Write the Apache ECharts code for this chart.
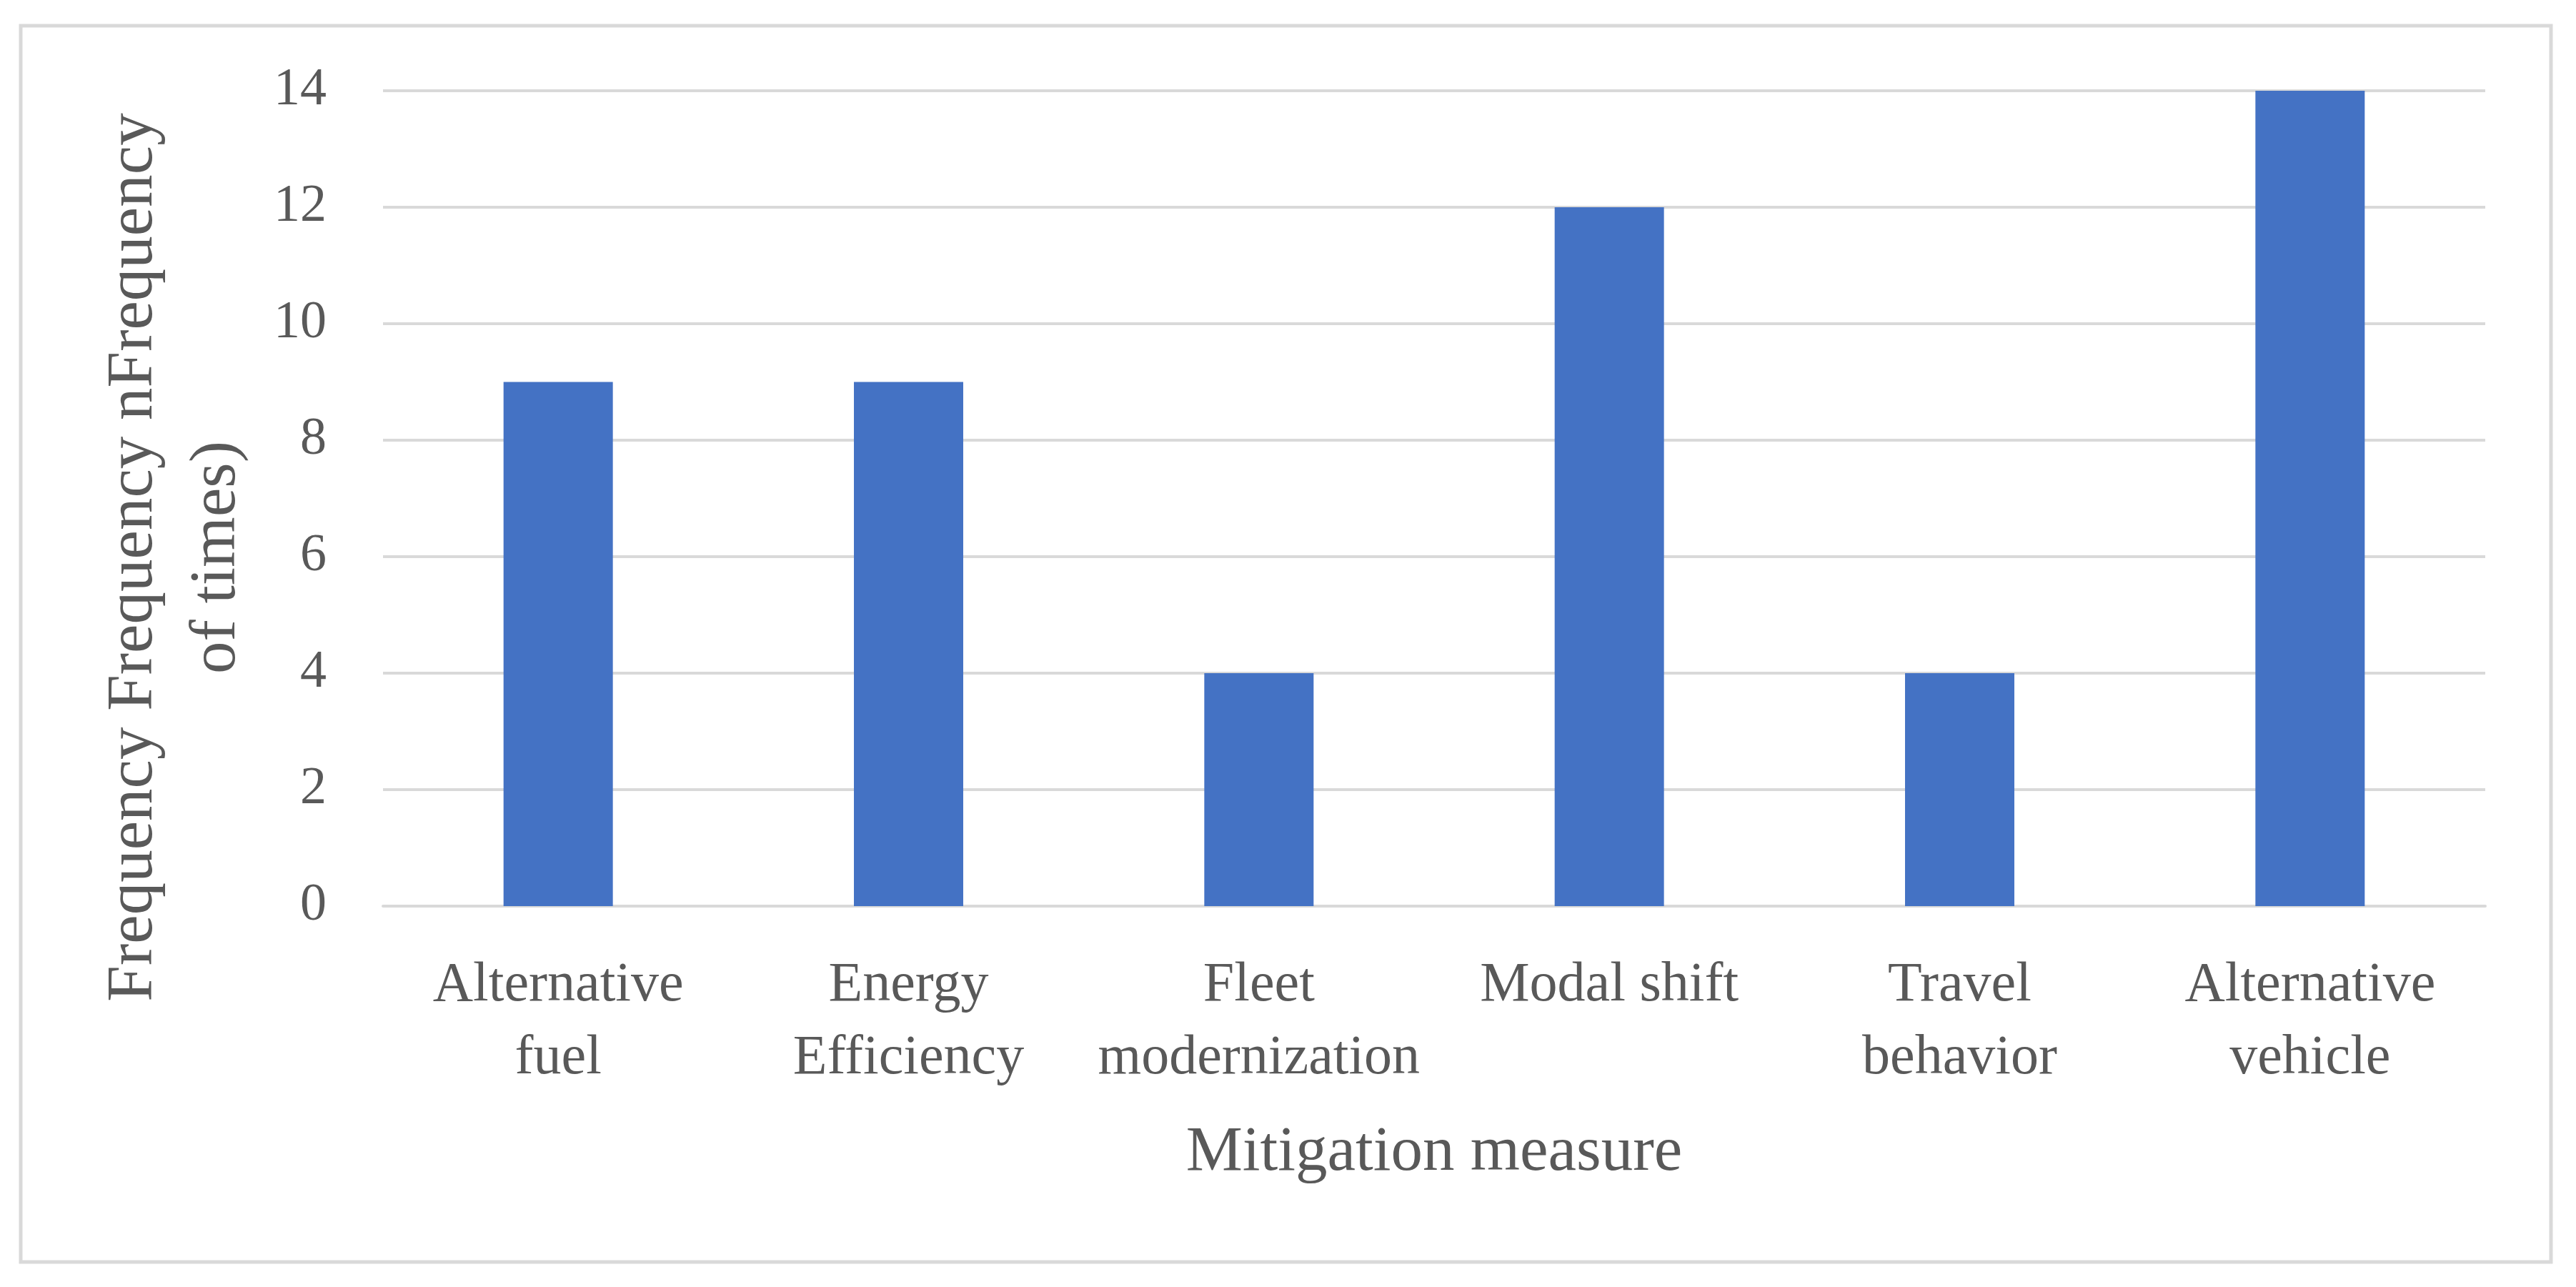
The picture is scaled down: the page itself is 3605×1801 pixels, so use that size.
<!DOCTYPE html>
<html>
<head>
<meta charset="utf-8">
<script src="https://cdn.jsdelivr.net/npm/echarts@6/dist/echarts.min.js"></script>
<style>
  html, body { margin: 0; padding: 0; background: #ffffff; }
  #chart { width: 3605px; height: 1801px; }
</style>
</head>
<body>
<div id="chart"></div>
<script>
const categories = ['Alternative\nfuel', 'Energy\nEfficiency', 'Fleet\nmodernization', 'Modal shift', 'Travel\nbehavior', 'Alternative\nvehicle'];
const frequencyValues = [9, 9, 4, 12, 4, 14];
const yTicks = { min: 0, max: 14, interval: 2 };
const xAxisTitle = 'Mitigation measure';
const yAxisTitle = 'Frequency Frequency nFrequency\nof times)';

const FONT = '"Liberation Serif", "DejaVu Serif", serif';
const TEXT = '#595959';
const GRIDC = '#d9d9d9';

const chart = echarts.init(document.getElementById('chart'), null, { renderer: 'canvas' });
chart.setOption({
  animation: false,
  backgroundColor: '#ffffff',
  graphic: [{
    type: 'rect',
    shape: { x: 29, y: 36, width: 3541, height: 1730 },
    style: { fill: 'none', stroke: GRIDC, lineWidth: 5 },
    silent: true
  }],
  grid: { left: 536, right: 127, top: 127, bottom: 533, containLabel: false, outerBoundsMode: 'none' },
  xAxis: {
    type: 'category',
    data: categories,
    name: xAxisTitle,
    nameLocation: 'middle',
    nameGap: 291,
    nameTextStyle: { fontFamily: FONT, fontSize: 89, color: TEXT, lineHeight: 110 },
    axisLine: { show: true, lineStyle: { color: GRIDC, width: 4 } },
    axisTick: { show: false },
    axisLabel: { fontFamily: FONT, fontSize: 78, color: TEXT, lineHeight: 102, margin: 61, interval: 0 },
    splitLine: { show: false }
  },
  yAxis: {
    type: 'value',
    min: yTicks.min,
    max: yTicks.max,
    interval: yTicks.interval,
    name: yAxisTitle,
    nameLocation: 'middle',
    nameGap: 174,
    nameTextStyle: { fontFamily: FONT, fontSize: 91, color: TEXT, lineHeight: 116, align: 'center', padding: [0, 165, 0, 0] },
    axisLine: { show: false },
    axisTick: { show: false },
    axisLabel: { fontFamily: FONT, fontSize: 74, color: TEXT, margin: 79 },
    splitLine: { show: true, lineStyle: { color: GRIDC, width: 4 } }
  },
  series: [{
    type: 'bar',
    data: frequencyValues,
    barWidth: '31.2%',
    itemStyle: { color: '#4472C4' },
    silent: true
  }]
});
</script>
</body>
</html>
